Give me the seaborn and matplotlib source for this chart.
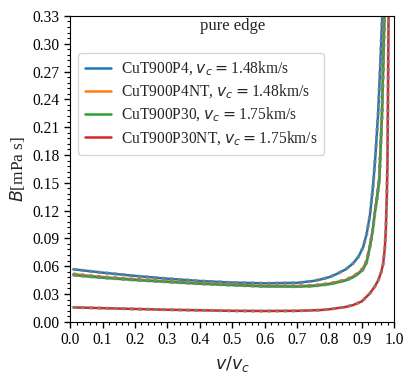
import matplotlib
matplotlib.use("Agg")
import matplotlib.pyplot as plt
import seaborn as sns
import pandas as pd
from matplotlib.ticker import MultipleLocator

# ---- data ----
labels = ["CuT900P4, $v_c=$1.48km/s",
          "CuT900P4NT, $v_c=$1.48km/s",
          "CuT900P30, $v_c=$1.75km/s",
          "CuT900P30NT, $v_c=$1.75km/s"]

x_p4 = [0.01, 0.05, 0.1, 0.2, 0.3, 0.4, 0.5, 0.6, 0.7, 0.75, 0.771, 0.8, 0.822, 0.85,
        0.873, 0.89, 0.904, 0.915, 0.925, 0.935, 0.942, 0.950, 0.957, 0.963, 0.966]
y_p4 = [0.0566, 0.0550, 0.0530, 0.0495, 0.0465, 0.0440, 0.0423, 0.0415, 0.0420, 0.0440,
        0.0455, 0.0482, 0.0515, 0.0565, 0.0630, 0.0705, 0.0805, 0.0950, 0.1150, 0.1480,
        0.1800, 0.2230, 0.2770, 0.3300, 0.3600]

x_p4nt = [0.01, 0.05, 0.1, 0.2, 0.3, 0.4, 0.5, 0.6, 0.7, 0.75, 0.8, 0.85, 0.873, 0.89,
          0.903, 0.915, 0.925, 0.933, 0.940, 0.947, 0.954, 0.962, 0.966, 0.969, 0.972]
y_p4nt = [0.0515, 0.0500, 0.0484, 0.0458, 0.0436, 0.0417, 0.0402, 0.0388, 0.0386, 0.0392,
          0.0412, 0.0452, 0.0490, 0.0530, 0.0575, 0.0660, 0.0820, 0.0980, 0.1180, 0.1350,
          0.1560, 0.2230, 0.2770, 0.3300, 0.3600]

x_p30 = [0.01, 0.05, 0.1, 0.2, 0.3, 0.4, 0.5, 0.6, 0.7, 0.75, 0.8, 0.85, 0.873, 0.89,
         0.903, 0.915, 0.925, 0.933, 0.940, 0.947, 0.954, 0.962, 0.966, 0.970, 0.973]
y_p30 = [0.0504, 0.0490, 0.0475, 0.0450, 0.0430, 0.0410, 0.0395, 0.0381, 0.0379, 0.0385,
         0.0405, 0.0445, 0.0480, 0.0520, 0.0560, 0.0640, 0.0810, 0.0970, 0.1170, 0.1340,
         0.1530, 0.2230, 0.2770, 0.3300, 0.3600]

x_p30nt = [0.01, 0.1, 0.2, 0.3, 0.4, 0.5, 0.6, 0.7, 0.771, 0.8, 0.85, 0.873, 0.9, 0.925,
           0.94, 0.951, 0.96, 0.966, 0.971, 0.974, 0.977, 0.979, 0.981, 0.983]
y_p30nt = [0.0155, 0.0147, 0.0138, 0.0130, 0.0124, 0.0118, 0.0116, 0.0118, 0.0126, 0.0135,
           0.0160, 0.0180, 0.0220, 0.0307, 0.0380, 0.0450, 0.0540, 0.0630, 0.0800, 0.0990,
           0.1350, 0.1700, 0.2600, 0.3600]

colors = ["#1f77b4", "#ff7f0e", "#2ca02c", "#d62728"]

sns.set_style("ticks")
plt.rcParams.update({
    "font.family": ["Liberation Serif", "DejaVu Serif"],
    "mathtext.fontset": "dejavusans",
    "xtick.direction": "out",
    "ytick.direction": "out",
    "axes.edgecolor": "black",
    "xtick.color": "black",
    "ytick.color": "black",
})

fig = plt.figure(figsize=(4.15, 3.79), dpi=100)
ax = fig.add_axes([0.169, 0.151, 0.781, 0.807])

series = [(x_p4, y_p4), (x_p4nt, y_p4nt), (x_p30, y_p30), (x_p30nt, y_p30nt)]
for (xs, ys), lab, c in zip(series, labels, colors):
    df = pd.DataFrame({"v": xs, "B": ys})
    sns.lineplot(data=df, x="v", y="B", ax=ax, color=c, lw=1.8, label=lab, sort=False)
for (xs, ys) in series:
    df = pd.DataFrame({"v": xs, "B": ys})
    sns.lineplot(data=df, x="v", y="B", ax=ax, color="gray", lw=2.2, ls=":",
                 alpha=1.0, legend=False, sort=False)

ax.set_xlim(0, 1.0)
ax.set_ylim(0, 0.33)
ax.xaxis.set_major_locator(MultipleLocator(0.1))
ax.xaxis.set_minor_locator(MultipleLocator(0.02))
ax.yaxis.set_major_locator(MultipleLocator(0.03))
ax.yaxis.set_minor_locator(MultipleLocator(0.006))
ax.xaxis.set_major_formatter(plt.FormatStrFormatter("%.1f"))
ax.yaxis.set_major_formatter(plt.FormatStrFormatter("%.2f"))
ax.tick_params(which="major", length=4, width=1, labelsize=11.2)
ax.tick_params(which="minor", length=2.2, width=0.8)
ax.set_xlabel("$v/v_c$", fontsize=12.5)
ax.set_ylabel("$B$[mPa s]", fontsize=12.5)
ax.text(0.5, 0.968, "pure edge", transform=ax.transAxes, ha="center", va="center", fontsize=12)

ax.legend(loc="upper left", bbox_to_anchor=(0.024, 0.879), borderaxespad=0.0,
          fontsize=11.2, frameon=True, handlelength=1.7, handletextpad=0.6,
          borderpad=0.45, labelspacing=0.3)

fig.savefig("out.png", dpi=100)
